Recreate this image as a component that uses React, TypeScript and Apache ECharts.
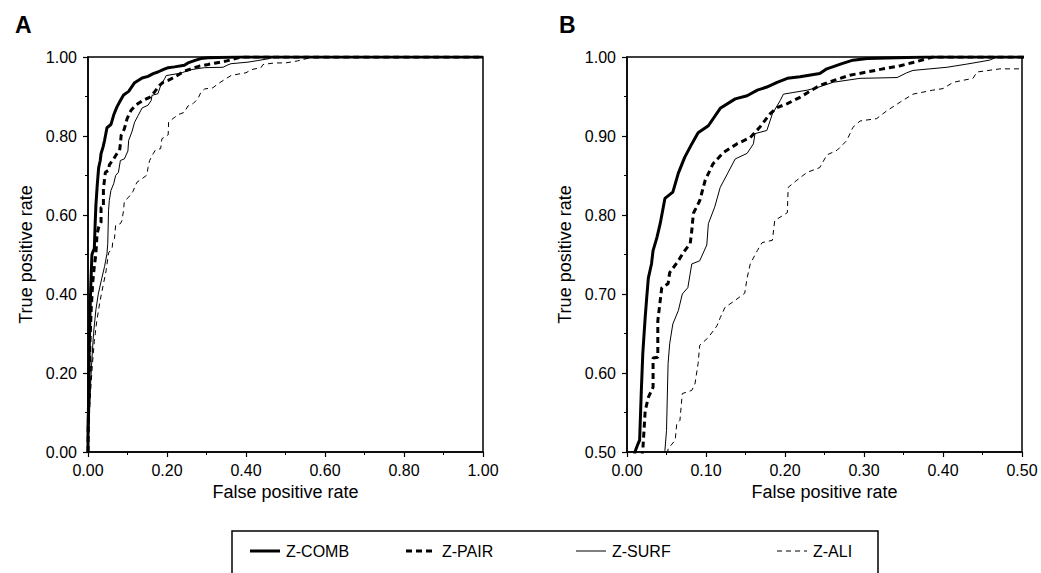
import React, { useEffect, useRef } from "react";
import * as echarts from "echarts";

const seriesNames = ["Z-COMB", "Z-PAIR", "Z-SURF", "Z-ALI"];

const zComb: [number, number][] = [
  [0, 0], [0, 0.06], [0.002, 0.15], [0.003, 0.25], [0.005, 0.35], [0.007, 0.42], [0.01, 0.5],
  [0.013, 0.508], [0.016, 0.515], [0.018, 0.574], [0.02, 0.625], [0.023, 0.67], [0.025, 0.696],
  [0.027, 0.72], [0.031, 0.738], [0.033, 0.755], [0.038, 0.772], [0.042, 0.789], [0.048, 0.821],
  [0.058, 0.829], [0.065, 0.853], [0.073, 0.873], [0.082, 0.89], [0.09, 0.904], [0.103, 0.913],
  [0.118, 0.935], [0.137, 0.947], [0.152, 0.951], [0.165, 0.958], [0.177, 0.962], [0.19, 0.968],
  [0.203, 0.973], [0.219, 0.975], [0.244, 0.979], [0.253, 0.985], [0.273, 0.992], [0.286, 0.996],
  [0.304, 0.998], [0.38, 1.0], [1, 1],
];

const zPair: [number, number][] = [
  [0, 0], [0.001, 0.08], [0.003, 0.18], [0.005, 0.28], [0.008, 0.36], [0.012, 0.43], [0.016, 0.47],
  [0.02, 0.502], [0.023, 0.552], [0.027, 0.569], [0.033, 0.582], [0.033, 0.619], [0.039, 0.62],
  [0.039, 0.666], [0.044, 0.708], [0.052, 0.713], [0.054, 0.727], [0.065, 0.742], [0.071, 0.752],
  [0.08, 0.764], [0.082, 0.78], [0.084, 0.802], [0.092, 0.818], [0.099, 0.844], [0.109, 0.865],
  [0.122, 0.879], [0.139, 0.89], [0.156, 0.898], [0.168, 0.911], [0.181, 0.928], [0.19, 0.936],
  [0.203, 0.941], [0.219, 0.949], [0.232, 0.957], [0.244, 0.964], [0.261, 0.97], [0.282, 0.977],
  [0.304, 0.981], [0.324, 0.985], [0.346, 0.989], [0.362, 0.993], [0.38, 0.998], [0.387, 1.0], [1, 1],
];

const zSurf: [number, number][] = [
  [0, 0], [0.002, 0.06], [0.005, 0.14], [0.009, 0.22], [0.014, 0.3], [0.02, 0.36], [0.026, 0.4],
  [0.035, 0.44], [0.042, 0.47], [0.048, 0.502], [0.05, 0.527], [0.052, 0.612], [0.054, 0.637],
  [0.058, 0.662], [0.065, 0.679], [0.07, 0.7], [0.077, 0.708], [0.082, 0.738], [0.092, 0.742],
  [0.101, 0.762], [0.103, 0.789], [0.111, 0.81], [0.118, 0.835], [0.127, 0.852], [0.137, 0.871],
  [0.152, 0.878], [0.16, 0.89], [0.162, 0.903], [0.177, 0.907], [0.184, 0.928], [0.194, 0.945],
  [0.198, 0.953], [0.21, 0.955], [0.228, 0.958], [0.24, 0.961], [0.261, 0.968], [0.295, 0.973],
  [0.342, 0.974], [0.354, 0.98], [0.362, 0.983], [0.405, 0.987], [0.43, 0.991], [0.459, 0.996],
  [0.468, 1.0], [1, 1],
];

const zAli: [number, number][] = [
  [0, 0], [0.002, 0.05], [0.004, 0.1], [0.007, 0.16], [0.011, 0.22], [0.016, 0.28], [0.022, 0.33],
  [0.03, 0.38], [0.038, 0.42], [0.046, 0.46], [0.052, 0.504], [0.061, 0.515], [0.063, 0.536],
  [0.067, 0.54], [0.07, 0.574], [0.082, 0.578], [0.086, 0.586], [0.09, 0.612], [0.092, 0.635],
  [0.103, 0.645], [0.114, 0.66], [0.118, 0.67], [0.124, 0.683], [0.137, 0.692], [0.149, 0.701],
  [0.152, 0.72], [0.156, 0.738], [0.165, 0.755], [0.171, 0.765], [0.184, 0.768], [0.187, 0.793],
  [0.203, 0.803], [0.204, 0.835], [0.215, 0.844], [0.228, 0.854], [0.244, 0.86], [0.253, 0.876],
  [0.266, 0.882], [0.278, 0.894], [0.286, 0.911], [0.295, 0.919], [0.316, 0.922], [0.329, 0.932],
  [0.346, 0.943], [0.362, 0.953], [0.387, 0.958], [0.4, 0.96], [0.413, 0.968], [0.438, 0.973],
  [0.443, 0.981], [0.472, 0.985], [0.5, 0.985], [0.53, 0.99], [0.57, 1.0], [1, 1],
];

const panelLabels = ["A", "B"];
const xTitle = "False positive rate";
const yTitle = "True positive rate";

const FONT = "Liberation Sans";

const curves = [zComb, zPair, zSurf, zAli];
const lineWidths = [3, 3, 1, 1];
const lineDashes: (number[] | null)[] = [null, [6, 4], null, [5, 4]];

function makeAxis(min: number, max: number, interval: number, gridIndex: number, isX: boolean) {
  return {
    type: "value",
    gridIndex,
    min,
    max,
    interval,
    name: isX ? xTitle : yTitle,
    nameLocation: "middle",
    nameGap: isX ? 30 : 53,
    nameTextStyle: { fontFamily: FONT, fontSize: 18, color: "#000" },
    axisLine: { show: true, onZero: false, lineStyle: { color: "#000", width: 1.5 } },
    axisTick: { show: true, inside: false, length: 5, lineStyle: { color: "#000", width: 1.2 } },
    minorTick: { show: true, splitNumber: 2, length: 3, lineStyle: { color: "#000", width: 1 } },
    minorSplitLine: { show: false },
    splitLine: { show: false },
    axisLabel: {
      fontFamily: FONT,
      fontSize: 16,
      color: "#000",
      margin: isX ? 10 : 11,
      formatter: (v: number) => v.toFixed(2),
    },
  };
}

export default function App() {
  const ref = useRef<HTMLDivElement>(null);

  useEffect(() => {
    if (!ref.current) return;
    const chart = echarts.init(ref.current, undefined, { renderer: "svg" });

    const series: any[] = [];
    [0, 1].forEach((g) => {
      curves.forEach((data, i) => {
        series.push({
          type: "line",
          name: seriesNames[i],
          xAxisIndex: g,
          yAxisIndex: g,
          data,
          symbol: "none",
          clip: true,
          color: "#000",
          lineStyle: { color: "#000", width: lineWidths[i], type: lineDashes[i] || "solid" },
          z: 5 - i,
        });
      });
    });

    const legendLefts = [250, 406, 576, 777];
    const legendY = 551;
    const legendGraphics: any[] = [
      {
        type: "rect",
        shape: { x: 232, y: 531, width: 646, height: 70 },
        style: { fill: "none", stroke: "#000", lineWidth: 1.5 },
        silent: true,
      },
    ];
    seriesNames.forEach((n, i) => {
      const x0 = legendLefts[i];
      legendGraphics.push({
        type: "line",
        shape: { x1: x0, y1: legendY, x2: x0 + 30, y2: legendY },
        style: {
          stroke: "#000",
          lineWidth: lineWidths[i],
          lineDash: lineDashes[i] || undefined,
        },
        silent: true,
      });
      legendGraphics.push({
        type: "text",
        x: x0 + 36,
        y: legendY,
        style: {
          text: n,
          fontFamily: FONT,
          fontSize: 16,
          fill: "#000",
          verticalAlign: "middle",
          align: "left",
        },
        silent: true,
      });
    });

    chart.setOption({
      animation: false,
      backgroundColor: "#fff",
      title: panelLabels.map((t, i) => ({
        text: t,
        left: i === 0 ? 10 : 554,
        top: 8,
        textStyle: { fontFamily: FONT, fontSize: 23, fontWeight: "bold", color: "#000" },
      })),
      grid: [
        { left: 88, top: 57, width: 395, height: 395, show: true, borderColor: "#000", borderWidth: 1.5, backgroundColor: "transparent" },
        { left: 627, top: 57, width: 395, height: 395, show: true, borderColor: "#000", borderWidth: 1.5, backgroundColor: "transparent" },
      ],
      xAxis: [makeAxis(0, 1, 0.2, 0, true), makeAxis(0, 0.5, 0.1, 1, true)],
      yAxis: [makeAxis(0, 1, 0.2, 0, false), makeAxis(0.5, 1, 0.1, 1, false)],
      graphic: legendGraphics,
      series,
    });

    return () => chart.dispose();
  }, []);

  return (
    <div
      ref={ref}
      style={{ position: "fixed", left: 0, top: 0, width: 1041, height: 573, background: "#fff" }}
    />
  );
}
